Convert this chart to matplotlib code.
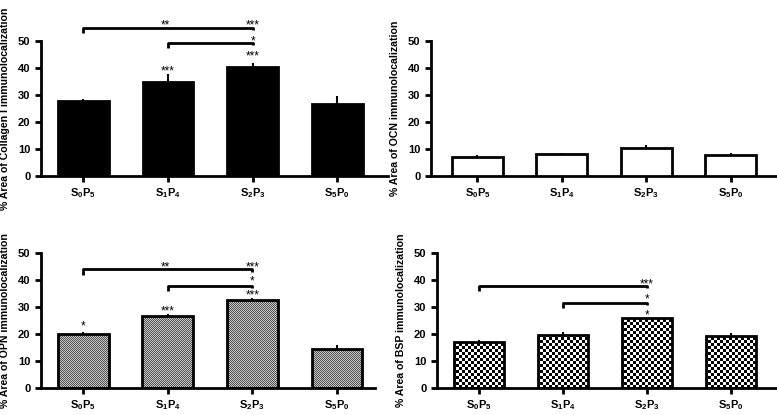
import numpy as np
import matplotlib
matplotlib.use("Agg")
import matplotlib.pyplot as plt

plt.rcParams['font.family'] = ['Liberation Sans', 'DejaVu Sans']
plt.rcParams['font.weight'] = 'bold'
plt.rcParams['mathtext.fontset'] = 'custom'
plt.rcParams['mathtext.rm'] = 'Liberation Sans:bold'
plt.rcParams['mathtext.bf'] = 'Liberation Sans:bold'
plt.rcParams['mathtext.it'] = 'Liberation Sans:bold'

groups = ['S0P5', 'S1P4', 'S2P3', 'S5P0']
tick_labels = [r'$\mathbf{S_0P_5}$', r'$\mathbf{S_1P_4}$', r'$\mathbf{S_2P_3}$', r'$\mathbf{S_5P_0}$']

col1_mean = [27.7, 34.7, 40.5, 26.5]
col1_err = [0.8, 3.1, 1.3, 3.3]
ocn_mean = [7.2, 8.2, 10.3, 7.8]
ocn_err = [0.7, 0.5, 1.0, 0.8]
opn_mean = [20.0, 26.8, 32.7, 14.5]
opn_err = [0.7, 0.6, 0.5, 1.3]
bsp_mean = [17.0, 19.8, 25.8, 19.3]
bsp_err = [0.6, 1.0, 0.3, 1.0]

# brackets: (from, to, line y, left star, left star y, right star, right star y)
col1_brackets = [(0, 2, 54.8, '**', 56.7, '***', 56.7), (1, 2, 49.3, '', 0, '*', 50.8)]
col1_bar_stars = {1: (39.6, '***'), 2: (45.2, '***')}
opn_brackets = [(0, 2, 44.0, '**', 45.6, '***', 45.6), (1, 2, 37.8, '', 0, '*', 40.7)]
opn_bar_stars = {0: (23.7, '*'), 1: (29.3, '***'), 2: (35.5, '***')}
bsp_brackets = [(0, 2, 37.8, '', 0, '***', 39.3), (1, 2, 31.6, '', 0, '*', 34.0)]
bsp_bar_stars = {2: (28.0, '*')}

ylabels = ['% Area of Collagen I immunolocalization',
           '% Area of OCN immunolocalization',
           '% Area of OPN immunolocalization',
           '% Area of BSP immunolocalization']

fig = plt.figure(figsize=(7.77, 4.15), dpi=100)
W, H = 777, 415

def mk(l, r, b, t):
    return fig.add_axes([l / W, 1 - b / H, (r - l) / W, (b - t) / H])

ax1 = mk(41, 388, 176, 41)
ax2 = mk(431, 777, 176, 41)
ax3 = mk(41, 375, 388, 253)
ax4 = mk(437, 777, 388, 253)

x = np.arange(len(groups))

def pattern_fill(bars, cell, dark, light):
    fig.canvas.draw()
    for b in bars:
        bb = b.get_window_extent()
        x0, y0 = int(np.floor(bb.x0)), int(np.floor(bb.y0))
        nx = int(np.ceil(bb.x1)) - x0
        ny = int(np.ceil(bb.y1)) - y0
        yy, xx = np.mgrid[0:ny, 0:nx]
        pat = ((xx // cell + yy // cell) % 2)
        img = np.where(pat > 0, light, dark).astype(float)
        im = fig.figimage(img, xo=x0, yo=y0, origin='lower', cmap='gray',
                          vmin=0, vmax=1, zorder=-1)
        im.set_clip_path(b)

def style(ax, means, errs, label, face, xr):
    bars = ax.bar(x, means, width=0.6, facecolor=face, edgecolor='black', linewidth=2, zorder=3)
    ax.errorbar(x, means, yerr=[np.zeros(len(errs)), errs], fmt='none', ecolor='black',
                elinewidth=1.5, capsize=0, zorder=1)
    ax.set_ylim(0, 50)
    ax.set_xlim(*xr)
    ax.set_yticks([0, 10, 20, 30, 40, 50])
    ax.set_xticks(x)
    ax.set_xticklabels(tick_labels)
    for s in ['top', 'right']:
        ax.spines[s].set_visible(False)
    for s in ['left', 'bottom']:
        ax.spines[s].set_linewidth(2)
    ax.tick_params(width=2, length=4, labelsize=8)
    for t in ax.get_yticklabels():
        t.set_fontweight('bold')
    ax.set_ylabel(label, fontsize=7.6, fontweight='bold', labelpad=6)
    ax.patch.set_alpha(0)
    return bars

def star(ax, xv, yv, s):
    ax.annotate(s, (xv, yv), xytext=(0, -4.2), textcoords='offset points',
                ha='center', va='baseline', fontsize=8.5, fontweight='normal',
                annotation_clip=False)

def brackets(ax, brs, stars):
    for (a, b, y, ls, lsy, rs, rsy) in brs:
        ax.plot([a, a, b, b], [y - 2.0, y, y, y - 0.9], color='black', lw=2,
                clip_on=False, solid_capstyle='butt', zorder=4)
        if ls:
            star(ax, (a + b) / 2 - 0.03, lsy, ls)
        if rs:
            star(ax, b, rsy, rs)
    for i, (y, s) in stars.items():
        star(ax, x[i], y, s)

style(ax1, col1_mean, col1_err, ylabels[0], 'black', (-0.5, 3.6))
brackets(ax1, col1_brackets, col1_bar_stars)
style(ax2, ocn_mean, ocn_err, ylabels[1], 'white', (-0.55, 3.55))
b3 = style(ax3, opn_mean, opn_err, ylabels[2], 'none', (-0.5, 3.45))
brackets(ax3, opn_brackets, opn_bar_stars)
b4 = style(ax4, bsp_mean, bsp_err, ylabels[3], 'none', (-0.5, 3.55))
brackets(ax4, bsp_brackets, bsp_bar_stars)

pattern_fill(b3, 1, 0.32, 0.78)
pattern_fill(b4, 3, 0.0, 1.0)

fig.savefig('out.png', dpi=100)
